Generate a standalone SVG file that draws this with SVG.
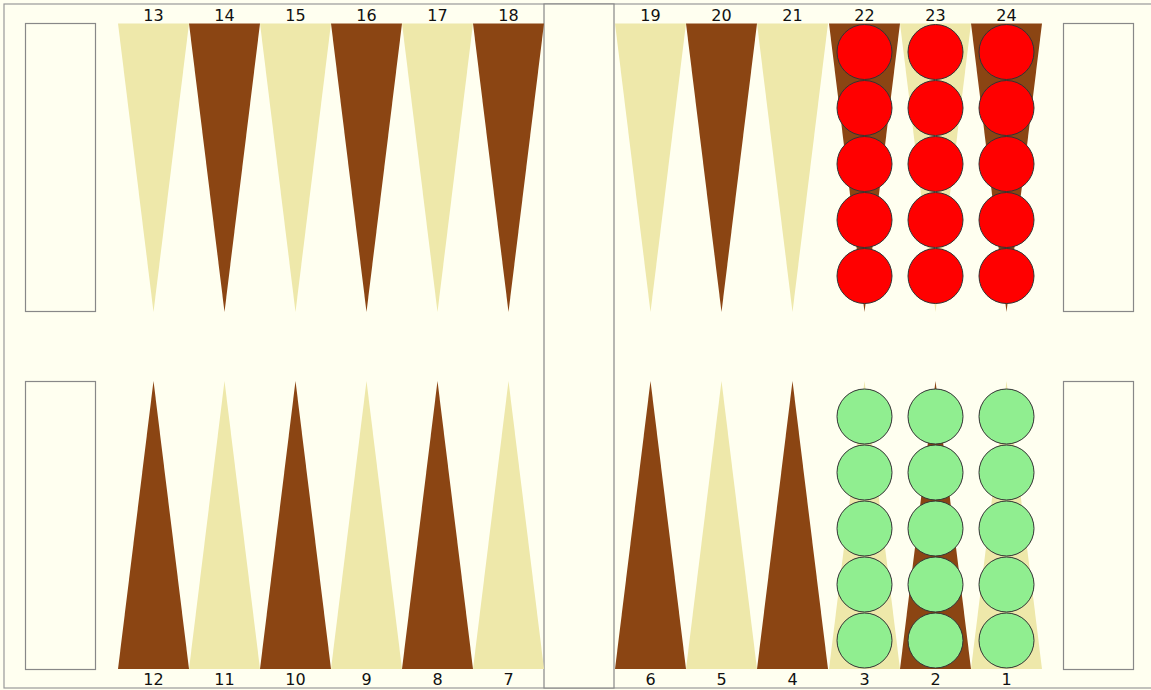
<svg xmlns="http://www.w3.org/2000/svg" width="1151" height="690" viewBox="0 0 1151 690">
<style>
.bg{fill:#FFFFF0}
.frame{fill:#FFFFF0;stroke:#999;stroke-width:1.2}
.box{fill:#FFFFF0;stroke:#888;stroke-width:1.2}
.d{fill:#8B4513}
.l{fill:#EEE8AA}
.red{fill:#FF0000;stroke:#333;stroke-width:1}
.grn{fill:#90EE90;stroke:#333;stroke-width:1}
.lbl{font-family:"DejaVu Sans",Verdana,sans-serif;font-size:16px;fill:#111;text-anchor:middle}
</style>
<rect class="bg" x="0" y="0" width="1151" height="690"/>
<rect class="frame" x="4" y="4" width="1150" height="684"/>
<g id="bar"><rect class="box" x="544" y="4" width="70" height="684"/></g>
<g id="bearoff">
<rect id="off-tl" class="box" x="25.5" y="23.5" width="70" height="288"/>
<rect id="off-bl" class="box" x="25.5" y="381.5" width="70" height="288"/>
<rect id="off-tr" class="box" x="1063.5" y="23.5" width="70" height="288"/>
<rect id="off-br" class="box" x="1063.5" y="381.5" width="70" height="288"/>
</g>
<g id="points">
<polygon id="p13" class="l" points="118,23.5 189,23.5 153.5,312"/>
<polygon id="p14" class="d" points="189,23.5 260,23.5 224.5,312"/>
<polygon id="p15" class="l" points="260,23.5 331,23.5 295.5,312"/>
<polygon id="p16" class="d" points="331,23.5 402,23.5 366.5,312"/>
<polygon id="p17" class="l" points="402,23.5 473,23.5 437.5,312"/>
<polygon id="p18" class="d" points="473,23.5 544,23.5 508.5,312"/>
<polygon id="p19" class="l" points="615,23.5 686,23.5 650.5,312"/>
<polygon id="p20" class="d" points="686,23.5 757,23.5 721.5,312"/>
<polygon id="p21" class="l" points="757,23.5 828,23.5 792.5,312"/>
<polygon id="p22" class="d" points="829,23.5 900,23.5 864.5,312"/>
<polygon id="p23" class="l" points="900,23.5 971,23.5 935.5,312"/>
<polygon id="p24" class="d" points="971,23.5 1042,23.5 1006.5,312"/>
<polygon id="p12" class="d" points="118,669 189,669 153.5,381"/>
<polygon id="p11" class="l" points="189,669 260,669 224.5,381"/>
<polygon id="p10" class="d" points="260,669 331,669 295.5,381"/>
<polygon id="p9" class="l" points="331,669 402,669 366.5,381"/>
<polygon id="p8" class="d" points="402,669 473,669 437.5,381"/>
<polygon id="p7" class="l" points="473,669 544,669 508.5,381"/>
<polygon id="p6" class="d" points="615,669 686,669 650.5,381"/>
<polygon id="p5" class="l" points="686,669 757,669 721.5,381"/>
<polygon id="p4" class="d" points="757,669 828,669 792.5,381"/>
<polygon id="p3" class="l" points="829,669 900,669 864.5,381"/>
<polygon id="p2" class="d" points="900,669 971,669 935.5,381"/>
<polygon id="p1" class="l" points="971,669 1042,669 1006.5,381"/>
</g>
<g id="red-checkers">
<circle class="red" cx="864.5" cy="52" r="27.5"/><circle class="red" cx="864.5" cy="108" r="27.5"/><circle class="red" cx="864.5" cy="164" r="27.5"/><circle class="red" cx="864.5" cy="220" r="27.5"/><circle class="red" cx="864.5" cy="276" r="27.5"/>
<circle class="red" cx="935.5" cy="52" r="27.5"/><circle class="red" cx="935.5" cy="108" r="27.5"/><circle class="red" cx="935.5" cy="164" r="27.5"/><circle class="red" cx="935.5" cy="220" r="27.5"/><circle class="red" cx="935.5" cy="276" r="27.5"/>
<circle class="red" cx="1006.5" cy="52" r="27.5"/><circle class="red" cx="1006.5" cy="108" r="27.5"/><circle class="red" cx="1006.5" cy="164" r="27.5"/><circle class="red" cx="1006.5" cy="220" r="27.5"/><circle class="red" cx="1006.5" cy="276" r="27.5"/>
</g>
<g id="green-checkers">
<circle class="grn" cx="864.5" cy="640.5" r="27.5"/><circle class="grn" cx="864.5" cy="584.5" r="27.5"/><circle class="grn" cx="864.5" cy="528.5" r="27.5"/><circle class="grn" cx="864.5" cy="472.5" r="27.5"/><circle class="grn" cx="864.5" cy="416.5" r="27.5"/>
<circle class="grn" cx="935.5" cy="640.5" r="27.5"/><circle class="grn" cx="935.5" cy="584.5" r="27.5"/><circle class="grn" cx="935.5" cy="528.5" r="27.5"/><circle class="grn" cx="935.5" cy="472.5" r="27.5"/><circle class="grn" cx="935.5" cy="416.5" r="27.5"/>
<circle class="grn" cx="1006.5" cy="640.5" r="27.5"/><circle class="grn" cx="1006.5" cy="584.5" r="27.5"/><circle class="grn" cx="1006.5" cy="528.5" r="27.5"/><circle class="grn" cx="1006.5" cy="472.5" r="27.5"/><circle class="grn" cx="1006.5" cy="416.5" r="27.5"/>
</g>
<g id="labels">
<text class="lbl" x="153.5" y="21">13</text>
<text class="lbl" x="224.5" y="21">14</text>
<text class="lbl" x="295.5" y="21">15</text>
<text class="lbl" x="366.5" y="21">16</text>
<text class="lbl" x="437.5" y="21">17</text>
<text class="lbl" x="508.5" y="21">18</text>
<text class="lbl" x="650.5" y="21">19</text>
<text class="lbl" x="721.5" y="21">20</text>
<text class="lbl" x="792.5" y="21">21</text>
<text class="lbl" x="864.5" y="21">22</text>
<text class="lbl" x="935.5" y="21">23</text>
<text class="lbl" x="1006.5" y="21">24</text>
<text class="lbl" x="153.5" y="685">12</text>
<text class="lbl" x="224.5" y="685">11</text>
<text class="lbl" x="295.5" y="685">10</text>
<text class="lbl" x="366.5" y="685">9</text>
<text class="lbl" x="437.5" y="685">8</text>
<text class="lbl" x="508.5" y="685">7</text>
<text class="lbl" x="650.5" y="685">6</text>
<text class="lbl" x="721.5" y="685">5</text>
<text class="lbl" x="792.5" y="685">4</text>
<text class="lbl" x="864.5" y="685">3</text>
<text class="lbl" x="935.5" y="685">2</text>
<text class="lbl" x="1006.5" y="685">1</text>
</g>
</svg>
